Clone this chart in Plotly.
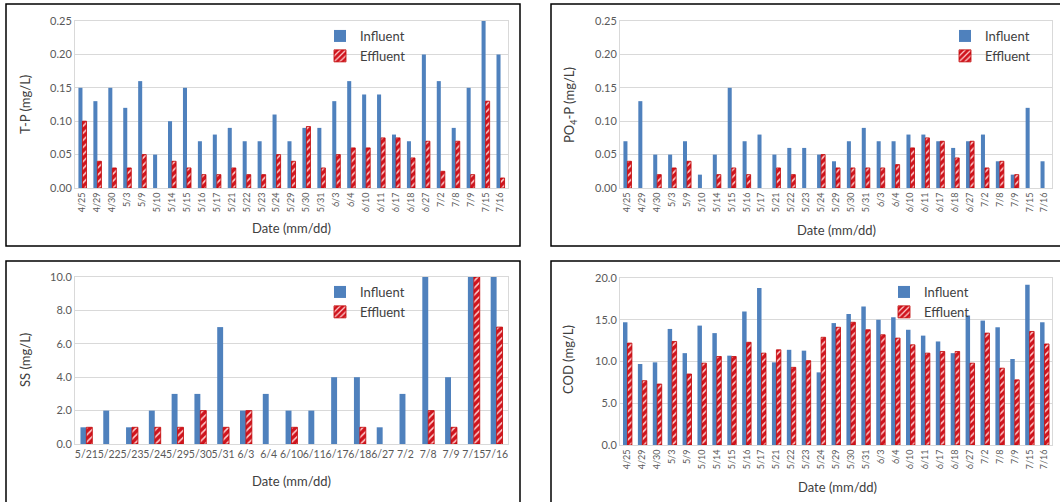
import plotly.graph_objects as go

# ---------------- data ----------------
dates = ["4/25", "4/29", "4/30", "5/3", "5/9", "5/10", "5/14", "5/15", "5/16", "5/17",
         "5/21", "5/22", "5/23", "5/24", "5/29", "5/30", "5/31", "6/3", "6/4", "6/10",
         "6/11", "6/17", "6/18", "6/27", "7/2", "7/8", "7/9", "7/15", "7/16"]

tp_influent = [0.15, 0.13, 0.15, 0.12, 0.16, 0.05, 0.10, 0.15, 0.07, 0.08,
               0.09, 0.07, 0.07, 0.11, 0.07, 0.09, 0.09, 0.13, 0.16, 0.14,
               0.14, 0.08, 0.07, 0.20, 0.16, 0.09, 0.15, 0.25, 0.20]
tp_effluent = [0.10, 0.04, 0.03, 0.03, 0.05, None, 0.04, 0.03, 0.02, 0.02,
               0.03, 0.02, 0.02, 0.05, 0.04, 0.092, 0.03, 0.05, 0.06, 0.06,
               0.075, 0.075, 0.045, 0.07, 0.025, 0.07, 0.02, 0.13, 0.015]

po4_influent = [0.07, 0.13, 0.05, 0.05, 0.07, 0.02, 0.05, 0.15, 0.07, 0.08,
                0.05, 0.06, 0.06, 0.05, 0.04, 0.07, 0.09, 0.07, 0.07, 0.08,
                0.08, 0.07, 0.06, 0.07, 0.08, 0.04, 0.02, 0.12, 0.04]
po4_effluent = [0.04, None, 0.02, 0.03, 0.04, None, 0.02, 0.03, 0.02, None,
                0.03, 0.02, None, 0.05, 0.03, 0.03, 0.03, 0.03, 0.035, 0.06,
                0.075, 0.07, 0.045, 0.07, 0.03, 0.04, 0.02, None, None]

ss_dates = ["5/21", "5/22", "5/23", "5/24", "5/29", "5/30", "5/31", "6/3", "6/4", "6/10",
            "6/11", "6/17", "6/18", "6/27", "7/2", "7/8", "7/9", "7/15", "7/16"]
ss_influent = [1, 2, 1, 2, 3, 3, 7, 2, 3, 2, 2, 4, 4, 1, 3, 10, 4, 10, 10]
ss_effluent = [1, None, 1, 1, 1, 2, 1, 2, None, 1, None, None, 1, None, None, 2, 1, 10, 7]

cod_influent = [14.7, 9.7, 9.9, 13.9, 11.0, 14.3, 13.4, 10.7, 16.0, 18.8,
                9.9, 11.4, 11.3, 8.7, 14.6, 15.7, 16.6, 15.0, 15.3, 13.8,
                13.1, 12.4, 11.0, 15.5, 14.9, 14.1, 10.3, 19.2, 14.7]
cod_effluent = [12.2, 7.7, 7.3, 12.4, 8.5, 9.8, 10.6, 10.6, 12.3, 11.0,
                11.4, 9.3, 10.1, 12.9, 14.1, 14.7, 13.8, 13.2, 12.8, 12.0,
                11.0, 11.2, 11.2, 9.8, 13.4, 9.2, 7.8, 13.6, 12.1]

# ---------------- styling ----------------
W, H = 1060, 502
FONT = "Lato"
BLUE = "#4F81BD"
RED = "#D0141E"
TICK = "#595959"
GRID = "#D9D9D9"


def px(x):
    return x / W


def py(y):
    return 1 - y / H


panels = [
    ("x", "y", dates, tp_influent, tp_effluent, 0.27, (75, 508), (188, 21), [0, 0.25], 0.05, ".2f", -90, "legend"),
    ("x2", "y2", dates, po4_influent, po4_effluent, 0.27, (620, 1052), (188, 21), [0, 0.25], 0.05, ".2f", -90, "legend2"),
    ("x3", "y3", ss_dates, ss_influent, ss_effluent, 0.26, (75, 508), (444, 277), [0, 10], 2, ".1f", 0, "legend3"),
    ("x4", "y4", dates, cod_influent, cod_effluent, 0.30, (620, 1052), (445, 278), [0, 20], 5, ".1f", -90, "legend4"),
]

fig = go.Figure()
layout = dict(
    width=W, height=H,
    margin=dict(l=0, r=0, t=0, b=0),
    paper_bgcolor="white", plot_bgcolor="white",
    barmode="overlay",
    font=dict(family=FONT, color="#404040"),
    showlegend=True,
)

legend_pos = {
    "legend": (320, 21),
    "legend2": (945, 21),
    "legend3": (320, 277),
    "legend4": (884, 277),
}

for (xa, ya, cats, infl, effl, w, xd, yd, yr, dt, fmt, ang, leg) in panels:
    fig.add_trace(go.Bar(
        x=cats, y=infl, name="Influent", xaxis=xa, yaxis=ya,
        width=w, offset=-w, marker=dict(color=BLUE, line=dict(width=0)),
        legend=leg,
    ))
    fig.add_trace(go.Bar(
        x=cats, y=effl, name="Effluent", xaxis=xa, yaxis=ya,
        width=w, offset=0,
        marker=dict(
            color=RED,
            line=dict(color="#C00000", width=0.8),
            pattern=dict(shape="/", bgcolor=RED, fgcolor="#FFD0D0",
                         size=5, solidity=0.3, fillmode="replace"),
        ),
        legend=leg,
    ))
    xkey = "xaxis" + xa[1:]
    ykey = "yaxis" + ya[1:]
    layout[xkey] = dict(
        domain=[px(xd[0]), px(xd[1])], anchor=ya, type="category",
        tickangle=ang, tickfont=dict(size=9 if ang else 10.5, color=TICK, family=FONT),
        showline=True, linecolor=GRID, linewidth=1, mirror=True,
        showgrid=False, ticks="", automargin=False,
    )
    layout[ykey] = dict(
        domain=[py(yd[0]), py(yd[1])], anchor=xa, range=yr, dtick=dt,
        tickformat=fmt, tickfont=dict(size=11, color=TICK, family=FONT),
        showgrid=True, gridcolor=GRID, gridwidth=1,
        showline=True, linecolor=GRID, linewidth=1, mirror=True,
        zeroline=False, ticks="", automargin=False,
    )
    lx, ly = legend_pos[leg]
    layout[leg] = dict(
        x=px(lx), y=py(ly), xanchor="left", yanchor="top",
        bgcolor="rgba(0,0,0,0)", itemwidth=30,
        font=dict(size=13, color="#404040", family=FONT),
        tracegroupgap=0,
    )

# panel frames
frames = [(6, 4, 520, 246), (551, 4, 1064, 246), (6, 261, 520, 504), (551, 261, 1064, 504)]
shapes = []
for (x0, y0, x1, y1) in frames:
    shapes.append(dict(type="rect", xref="paper", yref="paper",
                       x0=px(x0), x1=px(x1), y0=py(y1), y1=py(y0),
                       line=dict(color="black", width=1.5), layer="below"))
layout["shapes"] = shapes

ann = []
for (x, y, t) in [(291, 228, "Date (mm/dd)"), (836, 230, "Date (mm/dd)"),
                  (291, 481, "Date (mm/dd)"), (837, 487, "Date (mm/dd)")]:
    ann.append(dict(x=px(x), y=py(y), xref="paper", yref="paper", text=t,
                    showarrow=False, xanchor="center", yanchor="middle",
                    font=dict(size=13, color="#404040", family=FONT)))
for (x, y, t) in [(25, 105, "T-P (mg/L)"), (570, 105, "PO<sub>4</sub>-P (mg/L)"),
                  (25, 360, "SS (mg/L)"), (568, 360, "COD (mg/L)")]:
    ann.append(dict(x=px(x), y=py(y), xref="paper", yref="paper", text=t,
                    showarrow=False, xanchor="center", yanchor="middle", textangle=-90,
                    font=dict(size=13, color="#404040", family=FONT)))
layout["annotations"] = ann

fig.update_layout(**layout)
fig.write_html(
    "out.html",
    config={"displayModeBar": False},
    post_script="document.body.style.margin='0';document.body.style.overflow='hidden';",
)
